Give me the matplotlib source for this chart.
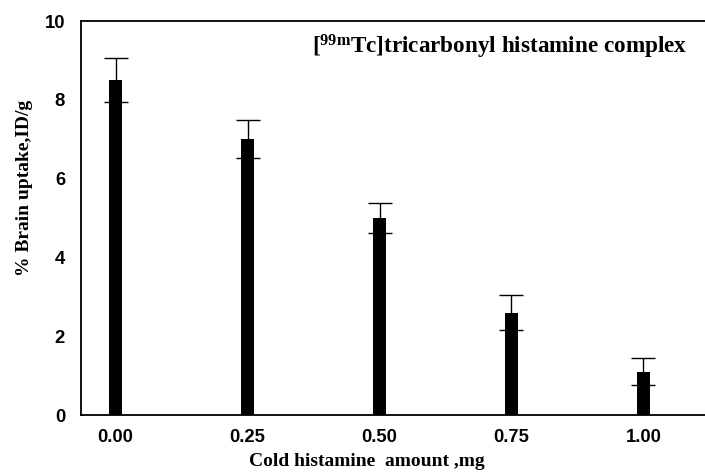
import matplotlib
matplotlib.use("Agg")
import matplotlib.pyplot as plt
import numpy as np

doses = [0.00, 0.25, 0.50, 0.75, 1.00]
tick_labels = ["0.00", "0.25", "0.50", "0.75", "1.00"]
uptake = [8.5, 7.0, 5.0, 2.6, 1.1]
errors = [0.55, 0.48, 0.38, 0.44, 0.34]

plt.rcParams['mathtext.fontset'] = 'custom'
plt.rcParams['mathtext.rm'] = 'Liberation Serif:bold'
plt.rcParams['mathtext.it'] = 'Liberation Serif:bold'
plt.rcParams['mathtext.bf'] = 'Liberation Serif:bold'

fig = plt.figure(figsize=(7.05, 4.73), dpi=100)
ax = fig.add_axes([81/705, 1-415/473, 1-81/705+0.01, (415-21)/473])

ax.bar(doses, uptake, width=0.0247, color='black', zorder=2)
ax.errorbar(doses, uptake, yerr=errors, fmt='none', ecolor='black',
            elinewidth=1.0, capsize=8.5, capthick=1.0, zorder=3)

ax.set_xlim(-0.0655, 1.13)
ax.set_ylim(0, 10)
ax.set_xticks(doses)
ax.set_xticklabels(tick_labels)
ax.set_yticks([0, 2, 4, 6, 8, 10])
ax.tick_params(length=0)
for lab in ax.get_xticklabels() + ax.get_yticklabels():
    lab.set_fontfamily('Liberation Sans')
    lab.set_fontweight('bold')
    lab.set_fontsize(13.3)
ax.tick_params(axis='x', pad=10)
ax.tick_params(axis='y', pad=11.5)

for s in ax.spines.values():
    s.set_linewidth(1.3)

ax.set_xlabel("Cold histamine  amount ,mg", fontfamily='Liberation Serif',
              fontweight='bold', fontsize=14)
ax.xaxis.set_label_coords(0.4525, -0.097)
ax.set_ylabel("% Brain uptake,ID/g", fontfamily='Liberation Serif',
              fontweight='bold', fontsize=14)
ax.yaxis.label.set_verticalalignment('center')
ax.yaxis.set_label_coords(-0.0888, 0.577)

ax.text(687/705, 1-53/473, r"[$^{\mathrm{99m}}$Tc]tricarbonyl histamine complex",
        transform=fig.transFigure, ha='right', va='baseline',
        fontfamily='Liberation Serif', fontweight='bold', fontsize=16.7)

fig.savefig("out.png", dpi=100)
